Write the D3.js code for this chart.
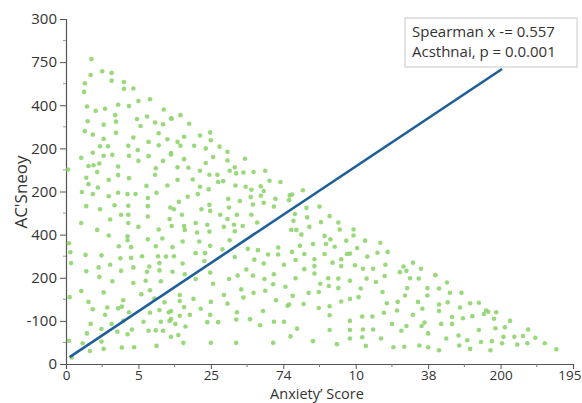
<!DOCTYPE html>
<html>
<head>
<meta charset="utf-8">
<script src="https://cdn.jsdelivr.net/npm/d3@7"></script>
<style>
  body { margin: 0; background: #fff; }
  svg { display: block; font-family: "Open Sans", sans-serif; }
</style>
</head>
<body>
<svg width="582" height="403"></svg>
<script>
// Tick labels as printed on the chart (positions are evenly spaced)
const xTickLabels = ["0", "5", "25", "74", "10", "38", "200", "195"];
const yTickLabels = ["0", "-100", "200", "400", "200", "200", "400", "750", "300"];
const xTickValues = [0, 10, 20, 30, 40, 50, 60, 70];
const yTickValues = [0, 10, 20, 30, 40, 50, 60, 70, 80];

const legendLines = ["Spearman x -= 0.557", "Acsthnai, p = 0.0.001"];

// Fitted line end points (score, sneoy)
const fitLine = [[0.5, 1.6], [60.2, 68.4]];

// Scatter points: [score, sneoy]
const points = [
  [3.5,70.7],[3.4,67.0],[5.0,67.9],[6.3,67.5],[2.6,65.1],[6.3,65.7],[8.0,65.4],[2.5,63.1],[8.0,63.8],[9.3,63.9],
  [10.0,61.0],[11.6,61.4],[2.9,59.7],[4.1,58.7],[5.4,59.2],[7.2,60.1],[8.7,59.8],[13.5,59.0],[6.8,57.7],[3.0,56.3],
  [5.2,55.5],[6.9,56.2],[9.8,56.8],[11.2,57.4],[14.5,56.9],[10.3,55.2],[12.3,56.0],[13.4,55.6],[2.6,54.0],[3.7,53.2],
  [6.9,53.6],[12.8,53.5],[5.2,52.2],[9.3,52.5],[11.4,51.5],[14.0,52.1],[4.7,50.5],[5.8,50.5],[8.6,50.6],[3.7,49.0],
  [9.9,49.6],[12.8,50.7],[5.2,48.3],[6.4,48.5],[8.7,48.3],[2.1,47.8],[11.4,48.2],[14.5,48.6],[10.0,47.1],[13.4,47.1],
  [3.1,45.9],[3.8,46.1],[4.6,46.5],[0.3,45.1],[7.2,45.8],[12.4,45.4],[4.3,44.5],[7.2,43.8],[12.3,43.9],[2.8,43.2],
  [5.9,42.7],[8.7,43.1],[3.1,41.7],[4.4,40.9],[11.1,41.3],[14.0,41.4],[2.2,39.9],[3.7,39.4],[5.9,38.9],[7.2,39.7],
  [8.5,39.4],[9.6,39.4],[12.5,39.7],[11.3,38.5],
  [15.8,57.7],[14.6,56.9],[17.0,55.7],[19.9,53.7],[18.5,53.0],[15.4,51.5],[15.8,50.6],[16.3,52.7],[20.0,51.9],[17.7,50.6],
  [19.3,50.0],[21.2,50.4],[22.3,49.2],[14.5,48.9],[16.3,47.5],[20.3,48.0],[22.3,47.2],[24.7,47.6],[19.3,46.6],[15.4,45.6],
  [16.9,45.5],[18.5,44.8],[19.8,43.9],[20.9,43.9],[22.6,44.8],[23.3,45.6],[23.5,44.2],[24.5,44.4],[25.9,44.5],[27.5,44.8],
  [15.4,42.7],[17.5,42.8],[21.0,42.2],[21.7,42.4],[28.1,42.5],[29.6,42.2],[18.5,41.1],[19.7,40.5],[23.4,41.4],[24.8,41.1],
  [25.6,40.4],[26.9,41.2],[27.3,40.1],[16.8,38.8],[18.2,39.4],[22.4,38.3],[24.0,37.8],[25.5,38.7],[26.9,39.0],[28.9,38.3],
  [30.9,39.1],[30.8,38.0],[15.6,37.6],[19.8,36.9],[22.5,36.3],[25.8,37.0],[27.3,37.4],[28.7,36.5],[14.4,36.3],[14.9,35.9],
  [18.7,35.9],[19.9,35.5],[21.3,34.6],[23.6,34.6],[25.6,34.6],[16.0,34.6],[14.3,33.6],[17.9,32.7],[22.3,33.6],[26.4,32.8],
  [14.6,32.0],[16.3,32.0],[19.5,32.3],[23.2,32.3],[24.4,32.0],
  [2.8,36.6],[4.7,35.9],[6.7,36.8],[8.6,36.7],[11.3,36.6],[2.1,32.7],[6.1,33.5],[7.6,34.6],[8.6,34.6],[11.3,34.2],
  [8.6,32.7],[10.0,31.8],[4.3,31.1],[12.8,31.2],[5.9,29.8],[8.5,29.6],[8.5,28.7],[13.3,29.1],[11.3,28.9],[7.3,27.3],
  [9.0,27.1],[12.4,27.3],[0.6,25.9],[2.7,25.3],[4.9,25.2],[7.5,24.5],[9.0,24.6],[10.5,25.0],[12.7,25.0],[13.8,24.9],
  [0.7,23.4],[4.5,22.4],[6.1,23.0],[9.3,22.4],[11.5,22.6],[12.9,23.4],[2.8,21.5],[7.6,21.6],[4.6,20.2],[11.2,21.4],
  [12.9,21.7],[6.4,19.2],[9.3,18.8],[11.0,19.3],[13.1,19.2],[2.1,16.9],[5.2,16.6],[11.6,17.1],[10.4,16.2],[0.5,15.5],
  [3.1,14.4],[7.9,14.8],[12.2,15.2],[13.6,14.3],[3.7,12.7],[5.7,13.1],[7.2,12.9],[7.7,13.3],[11.6,11.9],[12.9,12.5],
  [14.2,12.0],[5.4,11.4],[8.7,12.0],[3.4,9.3],[6.3,9.3],[7.9,10.0],[10.7,9.8],[13.1,9.8],[14.5,10.4],[4.9,8.1],
  [7.1,7.5],[8.5,6.9],[9.1,8.0],[11.4,7.7],[12.4,7.8],[13.4,7.7],[0.4,5.4],[2.9,7.1],[4.9,5.2],[2.3,4.8],
  [3.3,3.0],[5.2,3.5],[7.7,3.8],[9.4,3.9],[12.5,4.2],[0.8,1.5],[0.4,28.0],
  [16.4,31.1],[18.1,30.5],[19.8,30.7],[21.8,31.8],[23.3,30.8],[16.1,28.4],[18.4,28.4],[22.6,28.7],[14.7,27.1],[19.9,27.4],
  [21.6,26.6],[25.1,26.7],[26.5,26.4],[27.9,25.4],[29.3,25.4],[14.9,25.0],[17.9,25.7],[19.2,25.7],[23.3,24.8],[29.3,27.0],
  [31.1,31.1],[16.1,23.3],[19.1,23.9],[26.0,24.2],[27.3,23.3],[30.1,23.0],[14.7,21.4],[16.4,20.8],[19.9,21.2],[24.9,21.9],
  [25.8,20.5],[27.4,19.7],[28.7,20.8],[17.9,19.7],[22.5,19.7],[23.7,20.5],[20.3,18.6],[28.6,18.5],[30.3,17.9],[24.2,17.3],
  [25.9,16.5],[27.5,17.0],[15.7,16.0],[21.8,16.0],[24.5,15.4],[15.7,14.6],[17.6,15.1],[20.0,14.4],[22.3,14.0],[29.0,14.8],
  [30.6,13.5],[14.5,12.3],[16.3,13.2],[18.6,12.8],[23.6,12.0],[27.2,12.3],[15.7,11.2],[17.1,11.4],[19.9,11.4],[14.3,10.0],
  [15.1,9.3],[19.5,9.7],[21.0,9.7],[23.5,10.3],[25.4,10.4],[28.7,9.8],[30.1,9.8],[16.5,8.7],[26.8,9.0],[14.5,6.3],
  [15.5,6.7],[31.0,6.4],[16.2,4.9],[20.0,4.9],[23.5,4.9],[28.6,4.9],
  [32.7,40.3],[31.2,39.3],[35.0,36.5],[33.2,36.2],[31.6,34.8],[33.3,34.0],[36.4,34.3],[31.4,33.2],[35.2,32.9],[37.6,32.8],
  [33.6,31.8],[31.8,31.1],[37.8,31.2],[39.7,31.2],[39.7,29.8],[32.5,30.0],[35.7,29.7],[36.5,28.9],[38.7,28.6],[41.3,28.6],
  [43.4,28.1],[32.3,27.4],[34.1,27.8],[35.9,27.8],[37.1,27.2],[40.2,26.9],[31.2,26.0],[32.9,25.5],[35.7,25.5],[38.8,25.5],
  [39.2,25.6],[41.6,24.9],[43.0,25.8],[44.4,26.0],[31.7,24.1],[34.3,24.3],[36.8,23.5],[38.0,24.3],[32.9,22.0],[34.3,22.7],
  [38.0,22.7],[39.9,22.9],[41.0,22.1],[42.4,22.1],[44.1,23.0],[46.6,22.6],[47.9,23.5],[46.1,21.3],[47.0,21.6],[49.0,22.1],
  [31.7,19.9],[34.3,21.0],[36.2,19.9],[37.6,19.8],[39.2,19.3],[41.5,19.8],[42.8,19.0],[44.0,20.4],[47.5,19.9],[48.7,19.8],
  [35.1,18.6],[36.3,18.1],[37.6,17.6],[40.7,17.5],[47.1,17.6],[31.3,15.8],[33.5,16.5],[34.9,16.7],[39.2,15.1],[40.4,15.5],
  [43.7,16.7],[46.8,15.9],[32.8,13.9],[34.9,13.0],[36.4,13.4],[38.0,14.5],[44.3,14.1],[45.8,14.4],[48.6,14.4],[30.8,13.8],
  [36.4,11.3],[39.2,10.0],[40.9,11.0],[42.3,11.0],[43.9,11.9],[45.7,12.4],[47.9,11.4],[31.9,8.2],[36.4,7.9],[39.2,7.9],
  [41.0,8.0],[42.4,8.0],[45.0,9.3],[46.3,7.7],[47.0,8.8],[49.1,8.8],[34.1,5.3],[37.4,4.6],[39.2,5.9],[40.9,6.2],
  [41.4,4.2],[43.5,5.9],[45.2,3.9],[46.7,4.0],[48.8,4.3],
  [51.0,20.6],[52.6,18.9],[49.9,17.6],[51.5,17.5],[53.0,16.5],[54.6,16.5],[49.9,15.9],[52.7,14.3],[51.5,13.8],[55.8,14.1],
  [57.0,14.2],[49.2,12.8],[51.5,12.3],[54.4,13.1],[58.0,12.4],[58.3,12.1],[57.7,11.6],[59.4,12.0],[53.3,10.9],[54.8,10.6],
  [56.1,11.1],[59.1,10.5],[49.5,9.6],[51.8,9.3],[53.3,9.3],[61.3,10.0],[60.6,8.5],[59.3,8.3],[57.0,7.9],[63.8,8.0],
  [50.0,7.1],[54.2,6.6],[60.4,6.3],[61.9,6.3],[63.1,6.5],[64.8,6.1],[52.5,5.9],[55.4,5.5],[57.3,5.1],[58.8,5.3],
  [60.2,4.8],[62.3,4.5],[63.7,4.8],[66.1,4.8],[50.0,3.9],[51.5,3.2],[54.3,4.3],[55.8,3.5],[58.6,3.2],[67.7,3.4]
];

const width = 582, height = 403;
const margin = { top: 19, right: 9, bottom: 39, left: 66 };
const svg = d3.select("svg");

const x = d3.scaleLinear().domain([0, 70]).range([margin.left, width - margin.right]);
const y = d3.scaleLinear().domain([0, 80]).range([height - margin.bottom, margin.top]);

// Minor ticks (half steps)
const xMinor = d3.range(5, 70, 10);
const yMinor = d3.range(5, 80, 10);

// x axis
const xAxis = svg.append("g")
    .attr("transform", `translate(0,${y(0)})`)
    .call(d3.axisBottom(x).tickValues(xTickValues).tickSize(5).tickPadding(1)
        .tickFormat((d, i) => xTickLabels[i]));
xAxis.selectAll("line").attr("stroke", "#555");
xAxis.select(".domain").attr("stroke", "#555").attr("stroke-width", 1.2);
xAxis.selectAll("text").attr("font-size", 13.5).attr("fill", "#333")
    .attr("font-family", "Open Sans, sans-serif");
// last label sits against the right edge
xAxis.selectAll(".tick text").filter(d => d === 70)
    .attr("text-anchor", "end").attr("dx", 8);
xAxis.selectAll(".minor").data(xMinor).enter().append("line")
    .attr("x1", d => x(d)).attr("x2", d => x(d))
    .attr("y1", 0).attr("y2", 3).attr("stroke", "#777");

// y axis
const yAxis = svg.append("g")
    .attr("transform", `translate(${x(0)},0)`)
    .call(d3.axisLeft(y).tickValues(yTickValues).tickSize(6).tickPadding(3)
        .tickFormat((d, i) => yTickLabels[i]));
yAxis.selectAll("line").attr("stroke", "#555");
yAxis.select(".domain").attr("stroke", "#555").attr("stroke-width", 1.2);
yAxis.selectAll("text").attr("font-size", 15).attr("fill", "#333")
    .attr("font-family", "Open Sans, sans-serif");
yAxis.selectAll(".minor").data(yMinor).enter().append("line")
    .attr("x1", -3).attr("x2", 0)
    .attr("y1", d => y(d)).attr("y2", d => y(d)).attr("stroke", "#999");

// scatter
svg.append("g").selectAll("circle")
    .data(points)
    .enter().append("circle")
    .attr("cx", d => x(d[0]))
    .attr("cy", d => y(d[1]))
    .attr("r", 2.3)
    .attr("fill", "#8fd46e")
    .attr("opacity", 0.9);

// fitted line
svg.append("path")
    .datum(fitLine)
    .attr("d", d3.line().x(d => x(d[0])).y(d => y(d[1])))
    .attr("stroke", "#1d5e9b")
    .attr("stroke-width", 2.6)
    .attr("fill", "none");

// axis titles
svg.append("text")
    .attr("x", 317).attr("y", 398.6)
    .attr("text-anchor", "middle")
    .attr("font-size", 14.5).attr("fill", "#333")
    .text("Anxiety\u2019 Score");

svg.append("text")
    .attr("transform", "translate(27,192) rotate(-90)")
    .attr("text-anchor", "middle")
    .attr("font-size", 17).attr("fill", "#333")
    .text("AC'Sneoy");

// legend box
const legend = svg.append("g");
legend.append("rect")
    .attr("x", 405).attr("y", 18).attr("width", 172).attr("height", 49)
    .attr("fill", "#fff").attr("stroke", "#c8c8c8");
legend.selectAll("text").data(legendLines).enter().append("text")
    .attr("x", 412).attr("y", (d, i) => 37 + i * 20)
    .attr("font-size", 15).attr("fill", "#333")
    .text(d => d);
</script>
</body>
</html>
